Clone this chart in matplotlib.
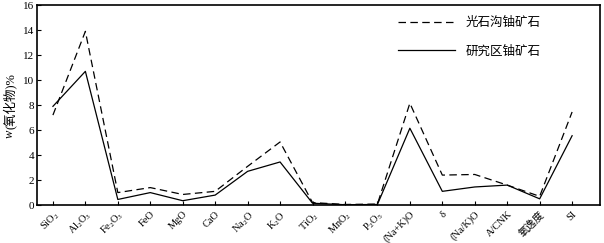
import numpy as np
import matplotlib
matplotlib.use('Agg')
import matplotlib.pyplot as plt

plt.rcParams['font.family'] = ['Liberation Serif', 'Noto Sans CJK SC', 'DejaVu Sans']
plt.rcParams['mathtext.default'] = 'regular'

# categories (x tick labels)
labels = ['SiO$_2$', 'Al$_2$O$_3$', 'Fe$_2$O$_3$', 'FeO', 'MgO', 'CaO', 'Na$_2$O',
          'K$_2$O', 'TiO$_2$', 'MnO$_2$', 'P$_2$O$_5$', '(Na+K)O', 'δ', '(Na/K)O',
          'A/CNK', '氧逸度', 'SI']

# 光石沟铀矿石 (dashed)
gsg = [7.2, 13.9, 1.0, 1.4, 0.85, 1.1, 3.1, 5.05, 0.2, 0.05, 0.08, 8.15, 2.4, 2.45,
       1.6, 0.7, 7.45]
# 研究区铀矿石 (solid)
yjq = [7.9, 10.7, 0.45, 1.0, 0.35, 0.8, 2.7, 3.45, 0.15, 0.03, 0.05, 6.15, 1.1, 1.45,
       1.6, 0.5, 5.55]

x = np.arange(len(labels))

fig = plt.figure(figsize=(6.04, 2.43), dpi=100)
ax = fig.add_axes([0.0613, 0.156, 0.9321, 0.823])

ax.plot(x, gsg, color='black', lw=0.9, dashes=(6, 3.5), label='光石沟铀矿石')
ax.plot(x, yjq, color='black', lw=0.9, label='研究区铀矿石')

ax.set_xlim(-0.49, 16.86)
ax.set_ylim(0, 16)
ax.set_yticks(range(0, 17, 2))
ax.set_xticks(x)
ax.set_xticklabels(labels, rotation=45, ha='right', rotation_mode='anchor', fontsize=7.5)
ax.tick_params(direction='in', length=3, width=0.8, labelsize=8, pad=2)
ax.tick_params(axis='x', labelsize=7.5, pad=3)
for s in ax.spines.values():
    s.set_linewidth(1.2)

# y label: italic w + rest
ax.text(-0.048, 0.335, 'w', style='italic', rotation=90, fontsize=9,
        transform=ax.transAxes, ha='center', va='bottom')
ax.text(-0.048, 0.38, '(氧化物)%', rotation=90, fontsize=9,
        transform=ax.transAxes, ha='center', va='bottom')

ax.legend(loc='upper left', bbox_to_anchor=(0.641, 0.94), frameon=False,
          fontsize=9, handlelength=4.6, handletextpad=0.8, labelspacing=1.3,
          borderpad=0, borderaxespad=0)

plt.savefig('out.png', dpi=100)
